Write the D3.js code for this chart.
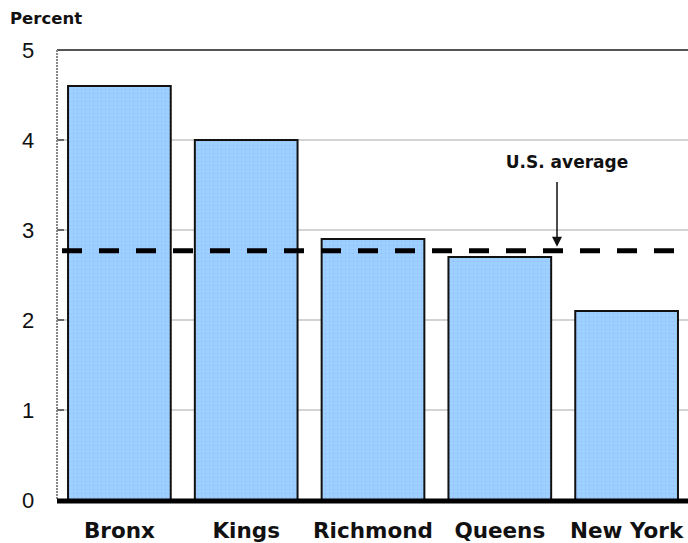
<!DOCTYPE html>
<html><head><meta charset="utf-8">
<script src="https://cdn.jsdelivr.net/npm/d3@7"></script>
<style>body{margin:0;background:#fff}svg{display:block}</style>
</head><body>
<script>
const categories = ["Bronx", "Kings", "Richmond", "Queens", "New York"];
const values = [4.6, 4.0, 2.9, 2.7, 2.1];
const usAverage = 2.77;
const yTicks = [0, 1, 2, 3, 4, 5];

const W = 688, H = 543;
const mLeft = 57, mRight = 689, mTop = 50, mBottom = 500;
const svg = d3.select("body").append("svg").attr("width", W).attr("height", H);
const font = "Arial, 'Liberation Sans', sans-serif";
const boldFont = "'DejaVu Sans', Verdana, sans-serif";

const defs = svg.append("defs");
const pat = defs.append("pattern").attr("id", "dots").attr("patternUnits", "userSpaceOnUse")
  .attr("width", 4).attr("height", 4);
pat.append("rect").attr("width", 4).attr("height", 4).attr("fill", "#9cd0ff");
pat.append("rect").attr("x", 1).attr("y", 1).attr("width", 1).attr("height", 1).attr("fill", "#a5a5ff");

const x = d3.scaleBand().domain(categories).range([mLeft, mRight]).paddingInner(0.19).paddingOuter(0.087);
const y = d3.scaleLinear().domain([0, 5]).range([mBottom, mTop]);

// gridlines
svg.append("g").selectAll("line").data(yTicks.filter(d => d > 0 && d < 5)).join("line")
  .attr("x1", mLeft).attr("x2", W).attr("y1", d => y(d)).attr("y2", d => y(d))
  .attr("stroke", "#c4c4c4").attr("stroke-width", 1.5);

// tick stubs
svg.append("g").selectAll("line").data(yTicks.filter(d => d > 0 && d < 5)).join("line")
  .attr("x1", mLeft).attr("x2", mLeft + 7).attr("y1", d => y(d)).attr("y2", d => y(d))
  .attr("stroke", "#444").attr("stroke-width", 1.5);

// frame: top border and left axis
svg.append("line").attr("x1", mLeft).attr("x2", W).attr("y1", mTop).attr("y2", mTop)
  .attr("stroke", "#555").attr("stroke-width", 2);
svg.append("line").attr("x1", mLeft).attr("x2", mLeft).attr("y1", mTop).attr("y2", mBottom)
  .attr("stroke", "#888").attr("stroke-width", 2).attr("stroke-dasharray", "2,1");

// y tick labels
svg.append("g").selectAll("text").data(yTicks).join("text")
  .attr("x", 28).attr("y", d => y(d)).attr("dy", "0.36em").attr("text-anchor", "middle")
  .attr("font-family", font).attr("font-size", 22).attr("fill", "#111").text(d => d);

// bars
svg.append("g").selectAll("rect").data(values).join("rect")
  .attr("x", (d, i) => x(categories[i])).attr("width", x.bandwidth())
  .attr("y", d => y(d)).attr("height", d => y(0) - y(d))
  .attr("fill", "url(#dots)").attr("stroke", "#111").attr("stroke-width", 2);

// x axis thick line
svg.append("line").attr("x1", mLeft).attr("x2", W).attr("y1", mBottom + 1).attr("y2", mBottom + 1)
  .attr("stroke", "#000").attr("stroke-width", 5);

// x labels
svg.append("g").selectAll("text").data(categories).join("text")
  .attr("x", d => x(d) + x.bandwidth() / 2).attr("y", 538).attr("text-anchor", "middle")
  .attr("font-family", boldFont).attr("font-size", 21.5).attr("font-weight", "bold").attr("fill", "#111")
  .text(d => d);

// US average dashed line
svg.append("line").attr("x1", mLeft + 5).attr("x2", W).attr("y1", y(usAverage)).attr("y2", y(usAverage))
  .attr("stroke", "#000").attr("stroke-width", 5).attr("stroke-dasharray", "20,17");

// annotation arrow
const ax = 557;
svg.append("line").attr("x1", ax).attr("x2", ax).attr("y1", 182).attr("y2", y(usAverage) - 10)
  .attr("stroke", "#111").attr("stroke-width", 1.5);
svg.append("path").attr("d", `M${ax - 5},${y(usAverage) - 14} L${ax + 5},${y(usAverage) - 14} L${ax},${y(usAverage) - 4} Z`)
  .attr("fill", "#111");
svg.append("text").attr("x", 567).attr("y", 168).attr("text-anchor", "middle")
  .attr("font-family", boldFont).attr("font-size", 17).attr("font-weight", "bold").attr("fill", "#111")
  .text("U.S. average");

// axis title
svg.append("text").attr("x", 10).attr("y", 24)
  .attr("font-family", boldFont).attr("font-size", 16.5).attr("font-weight", "bold").attr("fill", "#111")
  .text("Percent");
</script>
</body></html>
